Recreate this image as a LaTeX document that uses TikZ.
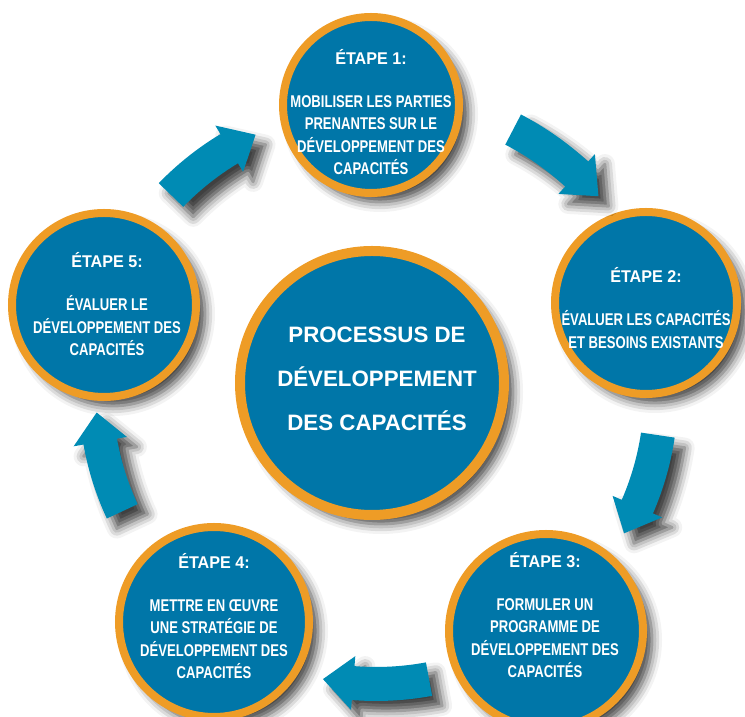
\documentclass[tikz,border=0pt]{standalone}
\usepackage{fontspec}
\setmainfont{Liberation Sans}
\newfontfamily\stepfont{Liberation Sans}[FakeStretch=0.95]
\newfontfamily\bodyfont{Liberation Sans}[FakeStretch=0.77]
\usepackage{xcolor}
\usepackage{tikz}
\usetikzlibrary{shadows.blur}

\definecolor{stepblue}{RGB}{0,118,168}
\definecolor{ringorange}{RGB}{238,156,38}
\definecolor{turnblue}{RGB}{0,139,180}

\begin{document}
\begin{tikzpicture}[x=1pt,y=1pt,
  stage/.style={circle,fill=stepblue,draw=ringorange,line width=8pt,inner sep=0pt,
    blur shadow={shadow xshift=9pt,shadow yshift=-9pt,shadow blur radius=10pt,shadow opacity=75}},
  steptext/.style={text=white,align=center,font=\bodyfont\bfseries\fontsize{17}{22.3}\selectfont},
  turn/.style={fill=turnblue,
    blur shadow={shadow xshift=10pt,shadow yshift=-10pt,shadow blur radius=10pt,shadow opacity=75}}]
\useasboundingbox (0,0) rectangle (745,717);
\clip (0,0) rectangle (745,717);

\node[stage,minimum size=176pt] (s1) at (371,612) {};
\node[stage,minimum size=182pt] (s2) at (646,414) {};
\node[stage,minimum size=194pt] (s3) at (546,86) {};
\node[stage,minimum size=190pt] (s4) at (214,95) {};
\node[stage,minimum size=184pt] (s5) at (104,412) {};
\node[stage,minimum size=264pt,line width=10pt] (centre) at (372,334) {};

\coordinate (hub) at (376,324);
\begin{scope}[shift={(hub)}]
\foreach \m/\r in {125.5/285,52/297,-19/285,-90/291,194.5/280}
  \fill[turn] ({\m+10.5}:{\r-17}) arc[start angle={\m+10.5},end angle={\m-4.5},radius={\r-17}]
    -- ({\m-4.5}:{\r-27}) -- ({\m-10.5}:\r) -- ({\m-4.5}:{\r+27}) -- ({\m-4.5}:{\r+17})
    arc[start angle={\m-4.5},end angle={\m+10.5},radius={\r+17}] -- cycle;
\end{scope}

\node[steptext] (t1) at (371,605) {{\stepfont\bfseries ÉTAPE 1:}\\[21pt]MOBILISER LES PARTIES\\PRENANTES SUR LE\\DÉVELOPPEMENT DES\\CAPACITÉS};
\node[steptext] (t2) at (646,409) {{\stepfont\bfseries ÉTAPE 2:}\\[21pt]ÉVALUER LES CAPACITÉS\\ET BESOINS EXISTANTS};
\node[steptext] (t3) at (545,102) {{\stepfont\bfseries ÉTAPE 3:}\\[21pt]FORMULER UN\\PROGRAMME DE\\DÉVELOPPEMENT DES\\CAPACITÉS};
\node[steptext] (t4) at (214,101) {{\stepfont\bfseries ÉTAPE 4:}\\[21pt]METTRE EN ŒUVRE\\UNE STRATÉGIE DE\\DÉVELOPPEMENT DES\\CAPACITÉS};
\node[steptext] (t5) at (107,413) {{\stepfont\bfseries ÉTAPE 5:}\\[21pt]ÉVALUER LE\\DÉVELOPPEMENT DES\\CAPACITÉS};

\node[text=white,align=center,font=\bfseries\fontsize{22.3}{44}\selectfont] (title) at (377,338) {PROCESSUS DE\\DÉVELOPPEMENT\\DES CAPACITÉS};

\end{tikzpicture}
\end{document}
